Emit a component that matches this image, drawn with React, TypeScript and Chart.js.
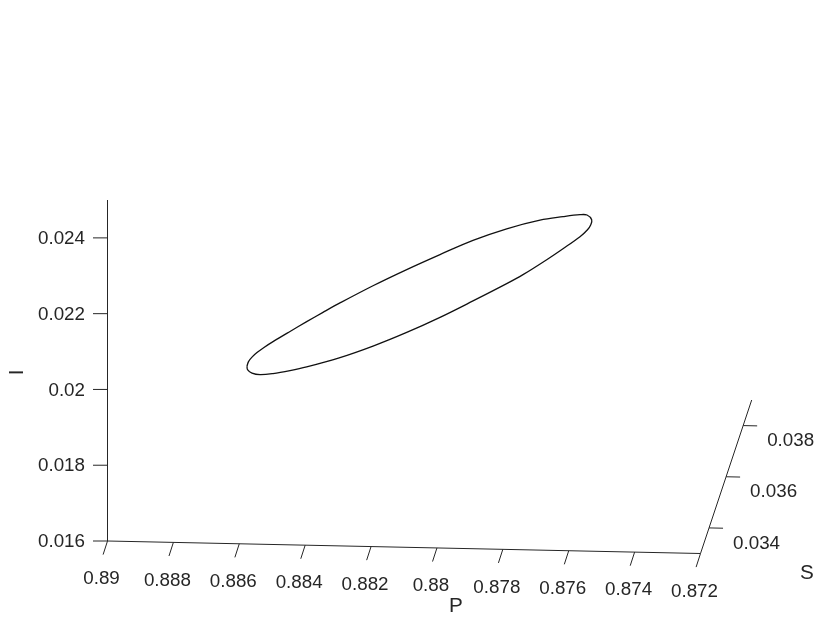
import React, { useEffect, useRef } from "react";
import { Chart, registerables } from "chart.js";

Chart.register(...registerables);

// Axis ranges
const P_RANGE = [0.872, 0.89];
const I_RANGE = [0.016, 0.025];
const S_RANGE = [0.033, 0.039];

// Tick values and labels
const P_TICKS = [0.89, 0.888, 0.886, 0.884, 0.882, 0.88, 0.878, 0.876, 0.874, 0.872];
const P_LABELS = ["0.89", "0.888", "0.886", "0.884", "0.882", "0.88", "0.878", "0.876", "0.874", "0.872"];
const I_TICKS = [0.016, 0.018, 0.02, 0.022, 0.024];
const I_LABELS = ["0.016", "0.018", "0.02", "0.022", "0.024"];
const S_TICKS = [0.034, 0.036, 0.038];
const S_LABELS = ["0.034", "0.036", "0.038"];

// Ellipse trace (projected P, I values)
const ELLIPSE_P = [
  0.885766, 0.88572, 0.885614, 0.885462, 0.88525, 0.884976, 0.88446, 0.883954, 0.883459,
  0.882943, 0.881941, 0.880918, 0.879907, 0.878906, 0.877883, 0.876872, 0.876174, 0.875658,
  0.875445, 0.875303, 0.87533, 0.87543, 0.875658, 0.876174, 0.876668, 0.877388, 0.877883,
  0.878906, 0.879907, 0.880918, 0.881941, 0.882943, 0.883954, 0.88446, 0.884976, 0.885371,
  0.885614, 0.88575, 0.885766,
];
const ELLIPSE_I = [
  0.020616, 0.020735, 0.020853, 0.020972, 0.021109, 0.021262, 0.021531, 0.02179, 0.022035,
  0.022283, 0.022737, 0.023164, 0.02356, 0.023934, 0.02424, 0.024467, 0.024559, 0.024612,
  0.024604, 0.02448, 0.024348, 0.024216, 0.024032, 0.023715, 0.023425, 0.02303, 0.022792,
  0.022336, 0.021903, 0.021505, 0.021144, 0.02084, 0.020595, 0.020497, 0.020418, 0.020389,
  0.020431, 0.020524, 0.020616,
];

const AXIS_COLOR = "#262626";
const TICK_FONT = '18.8px "Liberation Sans", Arial, Helvetica, sans-serif';
const TITLE_FONT = '20.7px "Liberation Sans", Arial, Helvetica, sans-serif';

const axes3d = {
  id: "axes3d",
  afterDatasetsDraw(chart: any) {
    const { ctx, scales } = chart;
    const x = scales.x;
    const y = scales.y;
    const x0 = x.getPixelForValue(P_RANGE[1]);
    const yBase = y.getPixelForValue(I_RANGE[0]);
    const yTop = y.getPixelForValue(I_RANGE[1]);
    const tilt = 12.5 / 593;
    const pPoint = (p: number) => {
      const px = x.getPixelForValue(p);
      return [px, yBase + (px - x0) * tilt];
    };
    const sOrigin = pPoint(P_RANGE[0]);
    const sVec = [51.2, -153.5];
    const sPoint = (s: number) => {
      const f = (s - S_RANGE[0]) / (S_RANGE[1] - S_RANGE[0]);
      return [sOrigin[0] + f * sVec[0], sOrigin[1] + f * sVec[1]];
    };

    ctx.save();
    ctx.strokeStyle = AXIS_COLOR;
    ctx.fillStyle = AXIS_COLOR;
    ctx.lineWidth = 1;

    // I axis (vertical)
    ctx.beginPath();
    ctx.moveTo(x0, yTop);
    ctx.lineTo(x0, yBase);
    ctx.stroke();

    // P axis (slightly tilted)
    const pEnd = pPoint(P_RANGE[0]);
    ctx.beginPath();
    ctx.moveTo(x0, yBase);
    ctx.lineTo(pEnd[0], pEnd[1]);
    ctx.stroke();

    // S axis (diagonal)
    const sEnd = sPoint(S_RANGE[1]);
    ctx.beginPath();
    ctx.moveTo(sOrigin[0], sOrigin[1]);
    ctx.lineTo(sEnd[0], sEnd[1]);
    ctx.stroke();

    ctx.font = TICK_FONT;

    // I ticks
    ctx.textAlign = "right";
    ctx.textBaseline = "middle";
    I_TICKS.forEach((v, k) => {
      const py = y.getPixelForValue(v);
      ctx.beginPath();
      ctx.moveTo(x0, py);
      ctx.lineTo(x0 - 14.5, py);
      ctx.stroke();
      ctx.fillText(I_LABELS[k], x0 - 22.5, py + 1);
    });

    // P ticks
    ctx.textAlign = "center";
    P_TICKS.forEach((v, k) => {
      const [px, py] = pPoint(v);
      ctx.beginPath();
      ctx.moveTo(px, py);
      ctx.lineTo(px - 4.4, py + 13.6);
      ctx.stroke();
      ctx.fillText(P_LABELS[k], px - 6, py + 38);
    });

    // S ticks
    ctx.textAlign = "left";
    S_TICKS.forEach((v, k) => {
      const [px, py] = sPoint(v);
      ctx.beginPath();
      ctx.moveTo(px, py);
      ctx.lineTo(px + 14, py + 0.3);
      ctx.stroke();
      ctx.fillText(S_LABELS[k], px + 24, py + 15.5);
    });

    // Axis titles
    ctx.font = TITLE_FONT;
    ctx.textAlign = "center";
    ctx.textBaseline = "middle";
    const pMid = pPoint((P_RANGE[0] + P_RANGE[1]) / 2);
    ctx.fillText("P", pMid[0] + 52, pMid[1] + 59.5);
    ctx.fillText("S", sOrigin[0] + 106.5, sOrigin[1] + 20);
    ctx.save();
    ctx.translate(x0 - 91.5, (yBase + yTop) / 2 + 2);
    ctx.rotate(-Math.PI / 2);
    ctx.fillText("I", 0, 1);
    ctx.restore();

    ctx.restore();
  },
};

export default function App() {
  const canvasRef = useRef<HTMLCanvasElement | null>(null);

  useEffect(() => {
    const canvas = canvasRef.current;
    if (!canvas) return;
    const data = ELLIPSE_P.map((p, k) => ({ x: p, y: ELLIPSE_I[k] }));
    const chart = new Chart(canvas, {
      type: "scatter",
      data: {
        datasets: [
          {
            data,
            showLine: true,
            fill: false,
            borderColor: "#111111",
            borderWidth: 1.3,
            pointRadius: 0,
            pointHoverRadius: 0,
            tension: 0.35,
          },
        ],
      },
      options: {
        responsive: false,
        animation: false,
        events: [],
        layout: { padding: { left: 107.5, right: 129.5, top: 200, bottom: 82 } },
        plugins: {
          legend: { display: false },
          title: { display: false },
          tooltip: { enabled: false },
        },
        scales: {
          x: { type: "linear", display: false, reverse: true, min: P_RANGE[0], max: P_RANGE[1] },
          y: { type: "linear", display: false, min: I_RANGE[0], max: I_RANGE[1] },
        },
      },
      plugins: [axes3d],
    });
    return () => chart.destroy();
  }, []);

  return (
    <div style={{ position: "fixed", left: 0, top: 0, width: 830, height: 623, background: "#ffffff" }}>
      <canvas ref={canvasRef} width={830} height={623} style={{ display: "block" }} />
    </div>
  );
}
